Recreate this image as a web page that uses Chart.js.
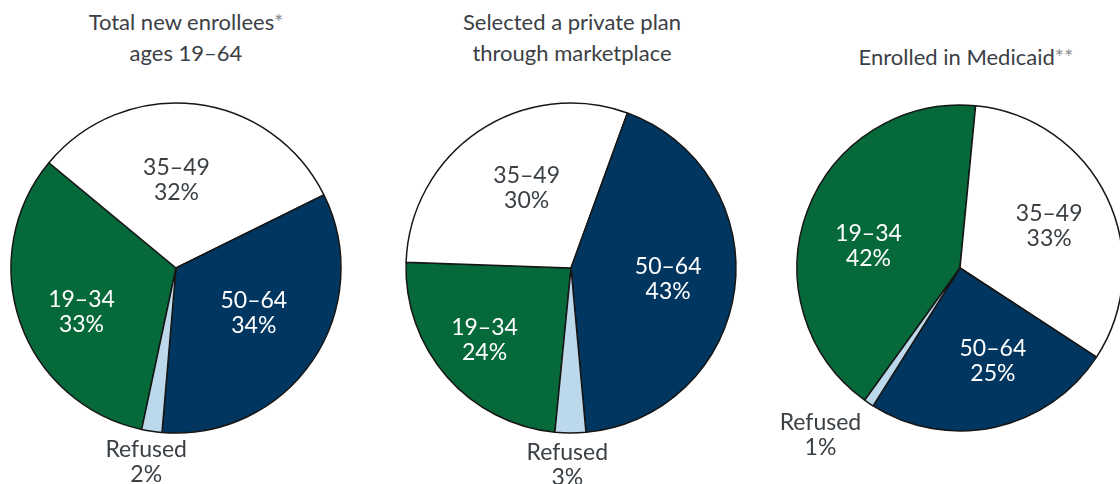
<!DOCTYPE html>
<html>
<head>
<meta charset="utf-8">
<script src="https://cdn.jsdelivr.net/npm/chart.js@4/dist/chart.umd.min.js"></script>
<style>
  body { margin: 0; width: 1120px; height: 484px; overflow: hidden; background: #fff; position: relative; font-family: Lato, sans-serif; }
  .box { position: absolute; top: 0; width: 360px; height: 484px; }
  .title { position: absolute; width: 400px; text-align: center; color: #3b4045; font-size: 22px; line-height: 31px; }
  .star { color: #8a8f94; }
</style>
</head>
<body>
<div class="title" style="left:-14px; top:6px;">Total new enrollees<span class="star">*</span><br>ages 19–64</div>
<div class="title" style="left:372px; top:6px;">Selected a private plan<br>through marketplace</div>
<div class="title" style="left:766px; top:41px;">Enrolled in Medicaid<span class="star">**</span></div>

<div class="box" style="left:-4px;"><canvas id="pieTotal"></canvas></div>
<div class="box" style="left:391px;"><canvas id="pieMarket"></canvas></div>
<div class="box" style="left:780px;"><canvas id="pieMedicaid"></canvas></div>

<script>
// age groups and shares (%)
var ageGroups = ['19–34', '35–49', '50–64', 'Refused'];
var totalShares = [33, 32, 34, 2];
var marketplaceShares = [24, 30, 43, 3];
var medicaidShares = [42, 33, 25, 1];

var sliceColors = ['#05693a', '#ffffff', '#00365f', '#bcd8eb'];
var labelColors = ['#ffffff', '#3b4045', '#ffffff', '#3b4045'];

// draws the "group / pct" labels, inside the slice or outside for Refused
var sliceLabels = {
    id: 'sliceLabels',
    afterDatasetsDraw: function(chart, args, opts) {
        var ctx = chart.ctx;
        var meta = chart.getDatasetMeta(0);
        var values = chart.data.datasets[0].data;
        ctx.save();
        ctx.font = '23px Lato, sans-serif';
        ctx.textAlign = 'center';
        ctx.textBaseline = 'middle';
        meta.data.forEach(function(arc, i) {
            var p = arc.getProps(['x', 'y', 'startAngle', 'endAngle', 'outerRadius'], true);
            var mid = (p.startAngle + p.endAngle) / 2;
            var f = i === 3 ? opts.outside : opts.inside;
            var nudge = opts.nudge[i];
            var x = p.x + Math.cos(mid) * p.outerRadius * f + nudge[0];
            var y = p.y + Math.sin(mid) * p.outerRadius * f + nudge[1];
            ctx.fillStyle = labelColors[i];
            ctx.fillText(chart.data.labels[i], x, y - 12.5);
            ctx.fillText(values[i] + '%', x, y + 12.5);
        });
        ctx.restore();
    }
};

function makePie(id, values, rotation, radius, outside, nudge) {
    var ctx = document.getElementById(id).getContext('2d');
    return new Chart(ctx, {
        type: 'pie',
        data: {
            labels: ageGroups,
            datasets: [{
                data: values,
                backgroundColor: sliceColors,
                borderColor: '#161616',
                borderWidth: 1.5
            }]
        },
        options: {
            responsive: true,
            maintainAspectRatio: false,
            animation: false,
            rotation: rotation,
            radius: radius,
            layout: { padding: { top: 52 } },
            plugins: {
                legend: { display: false },
                tooltip: { enabled: false },
                sliceLabels: { inside: 0.6, outside: outside, nudge: nudge }
            }
        },
        plugins: [sliceLabels]
    });
}

makePie('pieTotal', totalShares, 192, 165, 1.19, [[-1, 12], [-11, 10], [-4, -11], [-1, 0]]);
makePie('pieMarket', marketplaceShares, 185.6, 165, 1.19, [[-12, 7], [11, 2], [-1, -2], [-3, 1]]);
makePie('pieMedicaid', medicaidShares, 215.8, 163, 1.3, [[0, 13], [1, 0], [12, -2], [-21, -9]]);
</script>
</body>
</html>
